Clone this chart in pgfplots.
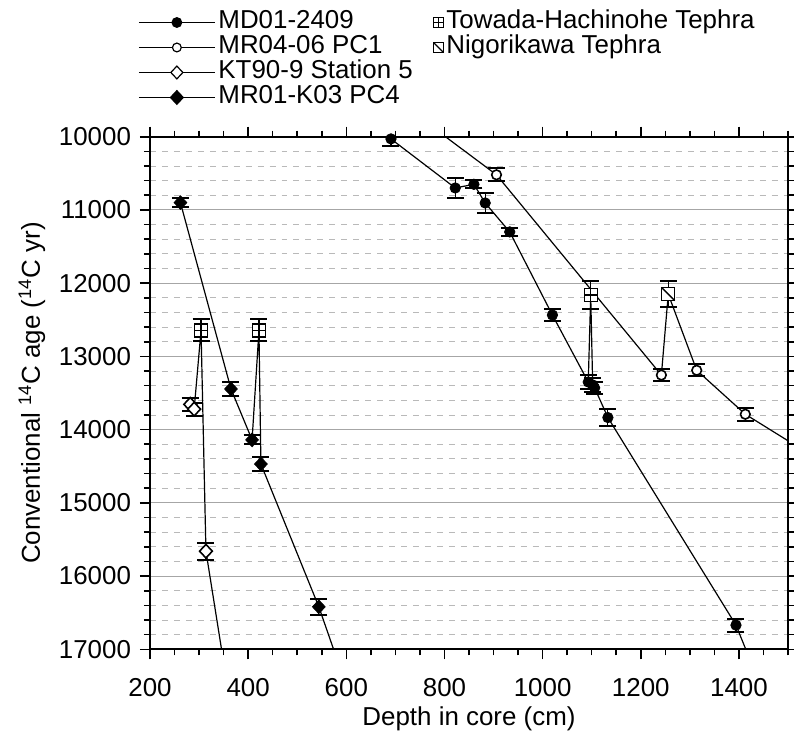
\documentclass[border=0pt]{standalone}
\usepackage{fontspec}
\setmainfont{Liberation Sans}
\usepackage{pgfplots}
\pgfplotsset{compat=1.18}
\usepackage{pgfplotstable}

% tephra marks: square with a cross / square with a diagonal
\pgfdeclareplotmark{towada}{%
  \pgfpathrectangle{\pgfqpoint{-\pgfplotmarksize}{-\pgfplotmarksize}}{\pgfqpoint{2\pgfplotmarksize}{2\pgfplotmarksize}}%
  \pgfusepathqfillstroke
  \pgfpathmoveto{\pgfqpoint{0pt}{-\pgfplotmarksize}}\pgfpathlineto{\pgfqpoint{0pt}{\pgfplotmarksize}}%
  \pgfpathmoveto{\pgfqpoint{-\pgfplotmarksize}{0pt}}\pgfpathlineto{\pgfqpoint{\pgfplotmarksize}{0pt}}%
  \pgfusepathqstroke}
\pgfdeclareplotmark{nigori}{%
  \pgfpathrectangle{\pgfqpoint{-\pgfplotmarksize}{-\pgfplotmarksize}}{\pgfqpoint{2\pgfplotmarksize}{2\pgfplotmarksize}}%
  \pgfusepathqfillstroke
  \pgfpathmoveto{\pgfqpoint{-\pgfplotmarksize}{\pgfplotmarksize}}\pgfpathlineto{\pgfqpoint{\pgfplotmarksize}{-\pgfplotmarksize}}%
  \pgfusepathqstroke}

% t: 0 = dated sample, 1 = Towada-Hachinohe, 2 = Nigorikawa, 3 = line only (off chart)
\pgfplotstableread{
x y e t
691 10030 100 0
822 10700 140 0
860 10650 55 0
883 10905 135 0
933 11300 55 0
1020 12435 80 0
1093 13350 90 0
1098 12160 190 1
1102 13390 90 0
1106 13430 80 0
1133 13835 120 0
1394 16670 90 0
1440 17430 0 3
}\mdtab

\pgfplotstableread{
x y e t
760 9790 0 3
906 10520 90 0
1242 13255 80 0
1256 12150 180 2
1314 13190 80 0
1413 13790 90 0
1550 14360 0 3
}\mrtab

\pgfplotstableread{
x y e t
282 13655 90 0
290 13720 90 0
304 12645 150 1
314 15660 115 0
360 17600 0 3
}\kttab

\pgfplotstableread{
x y e t
262 10900 60 0
365 13445 95 0
408 14140 60 0
422 12645 150 1
426 14470 90 0
544 16420 110 0
600 17500 0 3
}\kotab

\pgfplotsset{
  ln/.style={black, line width=0.6pt, no marks},
  errs/.style={/pgfplots/error bars/y dir=both, /pgfplots/error bars/y explicit,
    /pgfplots/error bars/error bar style={line width=0.6pt, black},
    /pgfplots/error bars/error mark options={rotate=90, mark size=4.25bp, line width=1pt, black}},
  keep/.style={/pgfplots/restrict expr to domain={\thisrow{t}}{#1:#1}},
}

\begin{document}
\begin{tikzpicture}
\begin{axis}[
  scale only axis,
  width=319bp, height=256.3bp,
  xmin=200, xmax=1500,
  ymin=10000, ymax=17000,
  y dir=reverse,
  scaled y ticks=false,
  xtick distance=200, minor x tick num=3,
  ytick distance=1000, minor y tick num=4,
  xtick pos=both, ytick pos=both,
  xticklabel pos=lower, yticklabel pos=left,
  tick align=outside,
  major tick length=5bp, minor tick length=3bp,
  every tick/.style={black, line width=0.8pt},
  axis line style={line width=1pt},
  ymajorgrids, yminorgrids,
  major grid style={gray!70, line width=0.5pt},
  minor grid style={gray!55, dashed, line width=0.45pt},
  /pgf/number format/1000 sep={},
  /pgf/number format/assume math mode=true,
  tick label style={font=\fontsize{13}{15.6}\selectfont},
  xticklabel style={yshift=-6bp},
  yticklabel style={xshift=-1bp},
  label style={font=\fontsize{13}{15.6}\selectfont},
  xlabel={Depth in core (cm)},
  xlabel style={yshift=2bp},
  ylabel={Conventional \textsuperscript{14}C age (\textsuperscript{14}C yr)},
  legend columns=2,
  legend cell align=left,
  legend style={draw=none, fill=none, inner sep=0pt, column sep=1bp,
    font=\fontsize{13}{15.6}\selectfont,
    nodes={text height=9bp, text depth=2.5bp, inner sep=0.5bp},
    at={(rel axis cs:-0.019,1.248)}, anchor=north west},
  legend image code/.code={\draw[mark repeat=2, mark phase=2] plot coordinates {(0bp,0bp) (19bp,0bp) (38bp,0bp)};},
]

% connecting lines (through the tephra levels)
\addplot[ln, forget plot] table[x=x, y=y] {\mdtab};
\addplot[ln, forget plot] table[x=x, y=y] {\mrtab};
\addplot[ln, forget plot] table[x=x, y=y] {\kttab};
\addplot[ln, forget plot] table[x=x, y=y] {\kotab};

% MD01-2409
\addplot[forget plot, only marks, mark=*, mark size=2.6bp, black, keep=0, errs]
  table[x=x, y=y, y error=e] {\mdtab};
% MR04-06 PC1
\addplot[forget plot, only marks, mark=*, mark size=2.4bp, black, mark options={fill=white, line width=0.8pt}, keep=0, errs]
  table[x=x, y=y, y error=e] {\mrtab};
% KT90-9 Station 5
\addplot[forget plot, only marks, mark=diamond*, mark size=3.4bp, black, mark options={fill=white, xscale=1.25, line width=0.8pt}, keep=0, errs]
  table[x=x, y=y, y error=e] {\kttab};
% MR01-K03 PC4
\addplot[forget plot, only marks, mark=diamond*, mark size=3.4bp, black, mark options={xscale=1.25}, keep=0, errs]
  table[x=x, y=y, y error=e] {\kotab};

% tephra levels
\addplot[forget plot, only marks, mark=towada, mark size=3.25bp, black, mark options={fill=white, line width=0.7pt}, keep=1, errs]
  table[x=x, y=y, y error=e] {\mdtab};
\addplot[forget plot, only marks, mark=towada, mark size=3.25bp, black, mark options={fill=white, line width=0.7pt}, keep=1, errs]
  table[x=x, y=y, y error=e] {\kttab};
\addplot[forget plot, only marks, mark=towada, mark size=3.25bp, black, mark options={fill=white, line width=0.7pt}, keep=1, errs]
  table[x=x, y=y, y error=e] {\kotab};
\addplot[forget plot, only marks, mark=nigori, mark size=3.25bp, black, mark options={fill=white, line width=0.7pt}, keep=2, errs]
  table[x=x, y=y, y error=e] {\mrtab};

% legend
\addlegendimage{black, line width=0.6pt, mark=*, mark size=2.4bp}
\addlegendentry{MD01-2409}
\addlegendimage{black, fill=white, line width=0.6pt, mark size=2.5bp,
  legend image code/.code={\path (-11bp,0bp); \draw plot[only marks, mark=towada] coordinates {(0bp,0bp)};}}
\addlegendentry{Towada-Hachinohe Tephra}
\addlegendimage{black, line width=0.6pt, mark=*, mark size=2.2bp, mark options={fill=white}}
\addlegendentry{MR04-06 PC1}
\addlegendimage{black, fill=white, line width=0.6pt, mark size=2.5bp,
  legend image code/.code={\path (-11bp,0bp); \draw plot[only marks, mark=nigori] coordinates {(0bp,0bp)};}}
\addlegendentry{Nigorikawa Tephra}
\addlegendimage{black, line width=0.6pt, mark=diamond*, mark size=3.2bp, mark options={fill=white, xscale=1.25}}
\addlegendentry{KT90-9 Station 5}
\addlegendimage{empty legend}
\addlegendentry{}
\addlegendimage{black, line width=0.6pt, mark=diamond*, mark size=3.4bp, mark options={xscale=1.25}}
\addlegendentry{MR01-K03 PC4}

\end{axis}
\pgfresetboundingbox
\path[use as bounding box] (-75bp,-44.35bp) rectangle (322bp,324.65bp);
\end{tikzpicture}
\end{document}
